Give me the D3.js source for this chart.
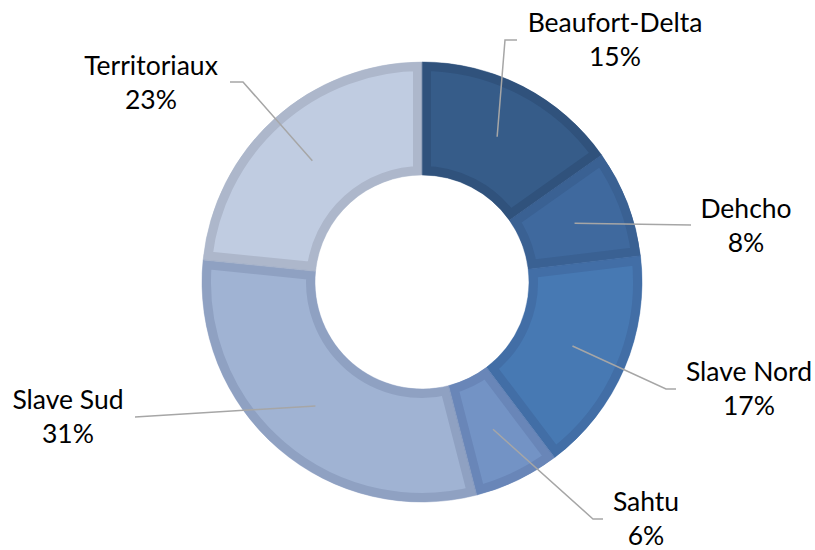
<!DOCTYPE html>
<html><head><meta charset="utf-8">
<script src="https://cdn.jsdelivr.net/npm/d3@7"></script>
<style>body{margin:0;background:#fff}svg{display:block}</style>
</head><body>
<svg id="c" width="815" height="550"></svg>
<script>
const categories = ["Beaufort-Delta","Dehcho","Slave Nord","Sahtu","Slave Sud","Territoriaux"];
const values = [15.2, 7.9, 16.6, 6.3, 30.6, 23.4];
const fills = ["#365C89","#3F699E","#4779B3","#7393C5","#A0B3D3","#C0CCE1"];
const borders = ["#30527C","#3A6193","#426EA6","#6986B8","#8FA1C2","#ADB7CB"];

// label layout: text centre and elbow/end of leader (layout only)
const labelLayout = [
  {tx:615, ty:32, pts:[[505,40],[517,40]]},
  {tx:746, ty:218, pts:[[691,225]]},
  {tx:749, ty:381, pts:[[666,389],[676,389]]},
  {tx:646, ty:511, pts:[[593,519],[603,519]]},
  {tx:68,  ty:409, pts:[[135,417]]},
  {tx:151, ty:75,  pts:[[243,82],[230,82]]}
];

const svg = d3.select("#c");
const cx = 422, cy = 282, R = 220, r0 = 107, bw = 9;
const g = svg.append("g").attr("transform",`translate(${cx},${cy})`);
const pie = d3.pie().sort(null).value(d=>d)(values);
const arc = d3.arc().innerRadius(r0).outerRadius(R);
const defs = svg.append("defs");
pie.forEach((p,i)=>{
  defs.append("clipPath").attr("id","cl"+i).append("path").attr("d",arc(p));
  g.append("path").attr("d",arc(p)).attr("fill",fills[i])
    .attr("stroke",borders[i]).attr("stroke-width",bw*2)
    .attr("clip-path",`url(#cl${i})`);
});
pie.forEach((p,i)=>{
  g.append("path").attr("d",arc(p)).attr("fill","none").attr("stroke",borders[i]).attr("stroke-width",0.6).attr("stroke-opacity",0.8);
});
const total = d3.sum(values);
pie.forEach((p,i)=>{
  const c = arc.centroid(p);
  const L = labelLayout[i];
  const pts = [[cx+c[0],cy+c[1]], ...L.pts];
  svg.append("path").attr("d",d3.line()(pts)).attr("fill","none")
    .attr("stroke","#A6A6A6").attr("stroke-width",1.5);
  const t = svg.append("text").attr("text-anchor","middle")
    .attr("font-family","Lato, 'Open Sans', sans-serif").attr("font-size",26.5).attr("fill","#000");
  t.append("tspan").attr("x",L.tx).attr("y",L.ty).text(categories[i]);
  t.append("tspan").attr("x",L.tx).attr("y",L.ty+34).text(Math.round(values[i]/total*100)+"%");
});
</script>
</body></html>
